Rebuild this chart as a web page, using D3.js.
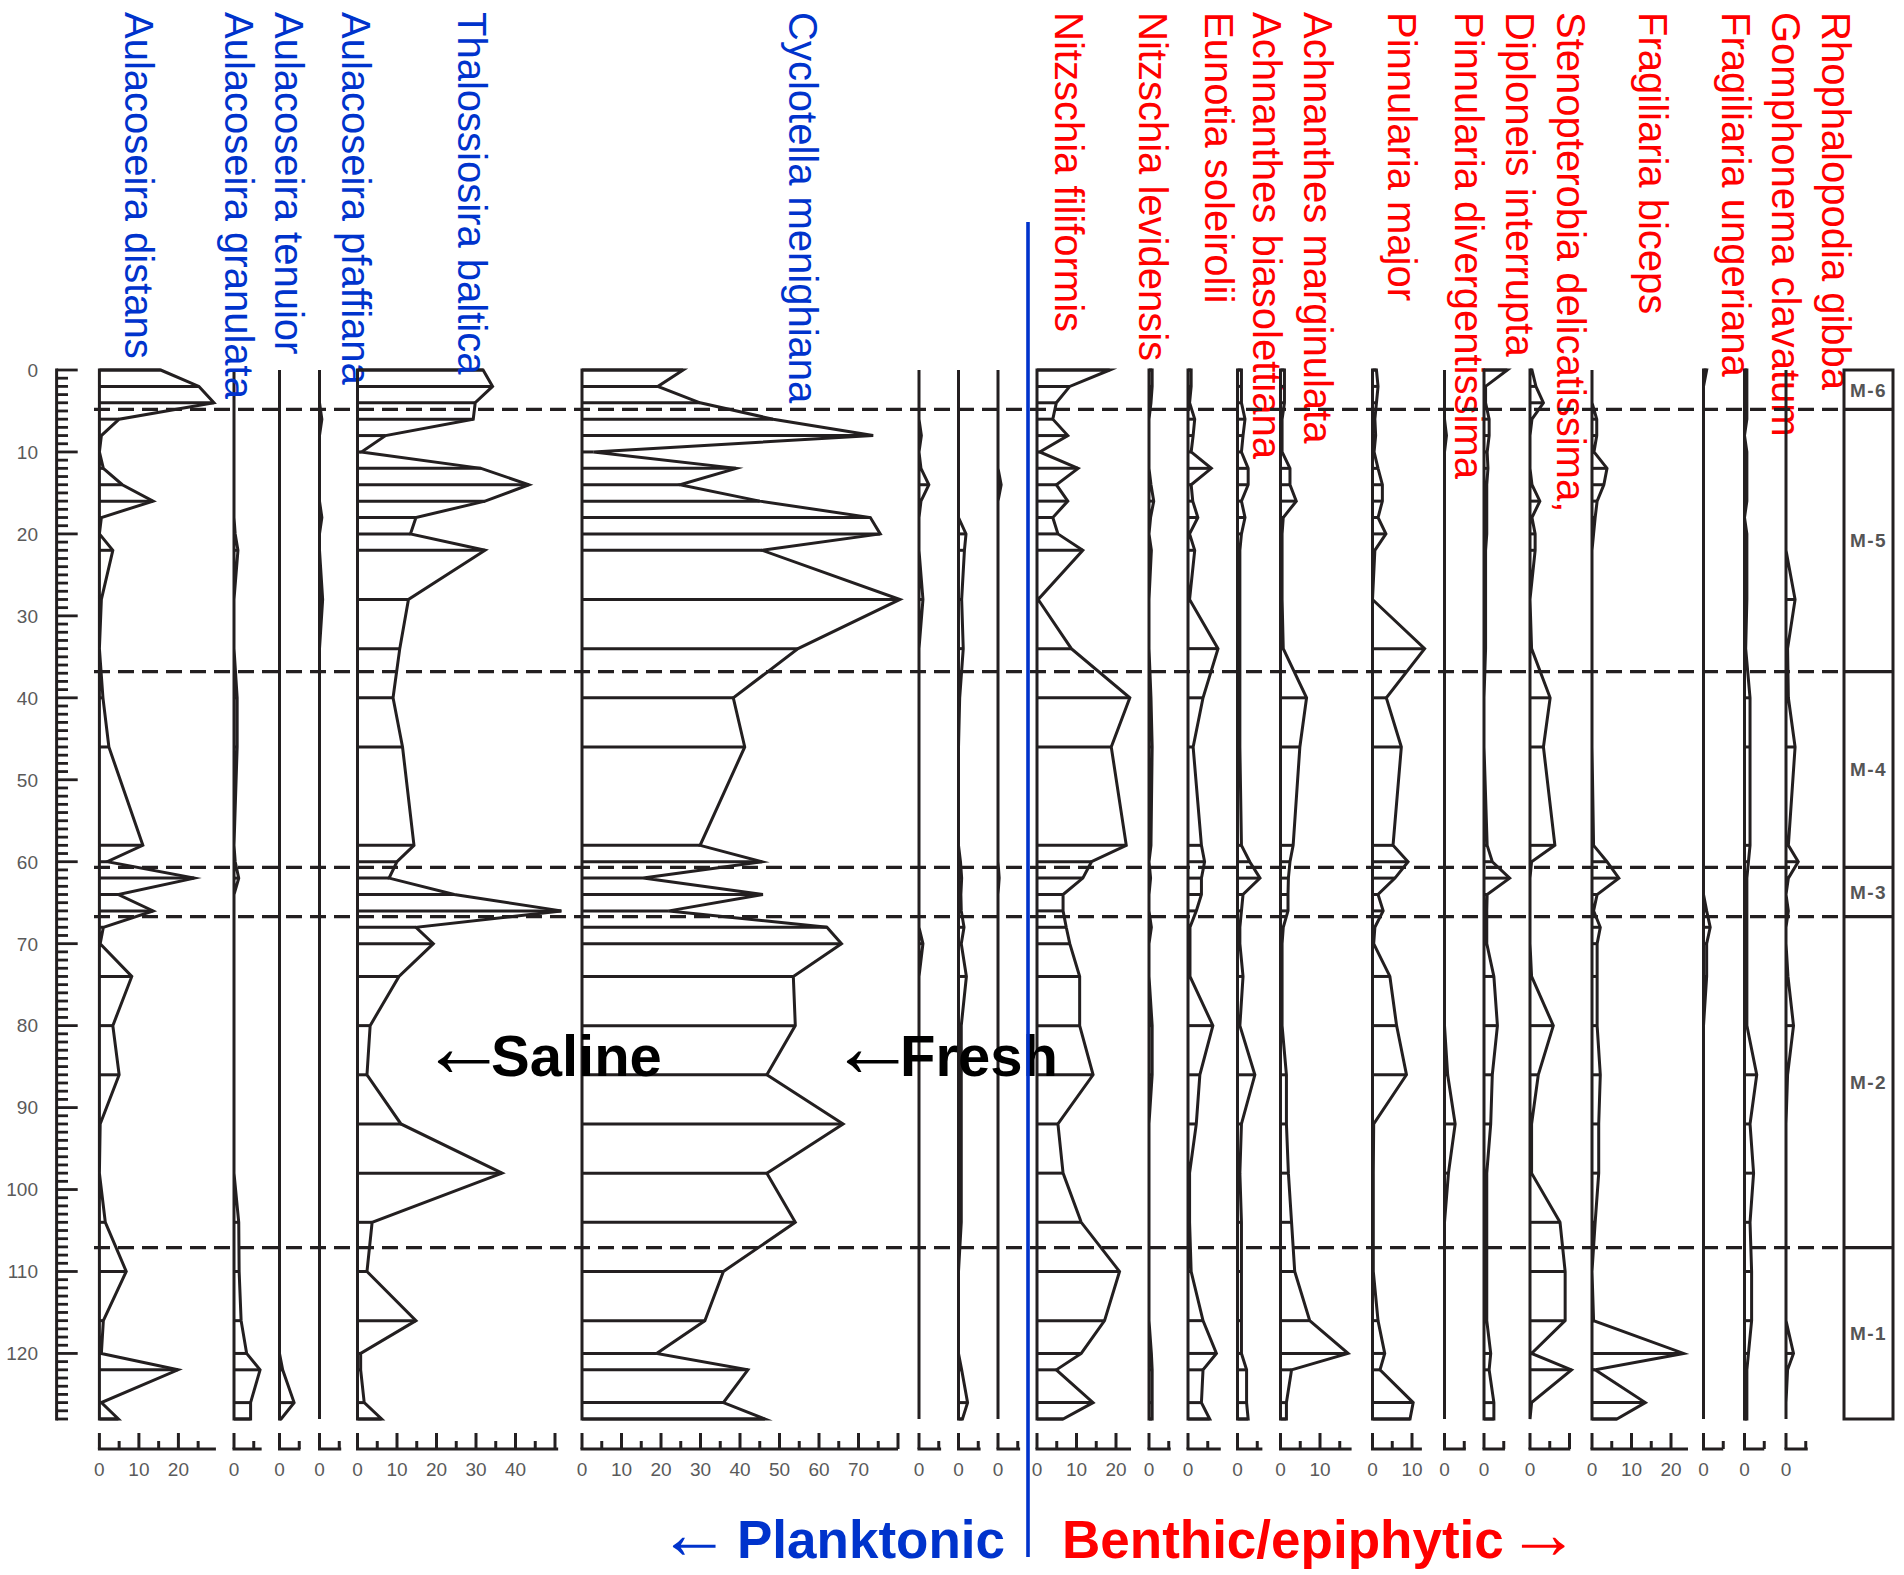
<!DOCTYPE html>
<html><head><meta charset="utf-8">
<script src="https://cdn.jsdelivr.net/npm/d3@7"></script>
<style>
body{margin:0;background:#fff}
svg{display:block}
text{font-family:"Liberation Sans",Arial,Helvetica,sans-serif}
</style>
</head><body>
<svg id="chart" width="1904" height="1575"></svg>
<script>
// ---------------- DATA ----------------
const depths = [0,2,4,6,8,10,12,14,16,18,20,22,28,34,40,46,58,60,62,64,66,68,70,74,80,86,92,98,104,110,116,120,122,126,128];

const taxonNames = [
  "Aulacoseira distans","Aulacoseira granulata","Aulacoseira tenuior","Aulacoseira pfaffiana",
  "Thalossiosira baltica","Cyclotella menighiana","","","",
  "Nitzschia filiformis","Nitzschia levidensis","Eunotia soleirolii","Achnanthes biasolettiana",
  "Achnanthes marginulata","Pinnularia major","Pinnularia divergentissima","Diploneis interrupta",
  "Stenopterobia delicatissima,","Fragiliaria biceps","Fragiliaria ungeriana","Gomphonema clavatum",
  "Rhophalopodia gibba"
];
const habitat = ["P","P","P","P","P","P","P","P","P","B","B","B","B","B","B","B","B","B","B","B","B","B"];

const aDistans   = [15.5,25.2,29,5,0.5,0,1,5.8,13.6,0.5,0,3.4,0.5,0,0.9,2.4,11,2,24,4.8,13.6,1,0.2,8.2,3.4,5,0.2,0,1.5,6.8,1,0.5,19.9,0.5,4.8];
const aGranulata = [0,0,0,0,0,0,0,0,0,0,0.3,1,0,0,0.8,0.8,0,0.3,1.2,0,0,0,0,0,0,0,0,0,1.2,1.3,1.8,3.2,6.6,4.2,4.2];
const aTenuior   = [0,0,0,0,0,0,0,0,0,0,0,0,0,0,0,0,0,0,0,0,0,0,0,0,0,0,0,0,0,0,0,0,0.8,3.7,0.4];
const aPfaffiana = [0,0,0,0.6,0,0,0,0,0,0.6,0,0,0.8,0,0,0,0,0,0,0,0,0,0,0,0,0,0,0,0,0,0,0,0,0,0];
const tBaltica   = [31.8,34.2,29.8,29.3,7.1,1,31.3,43.4,32.3,14.8,13.4,32.3,12.9,10.7,9,11.4,14.3,10,8,24.5,51.6,14.8,19.2,10.5,3.2,2.4,11,36.6,3.7,2.4,14.8,0.8,0.8,1.7,6.1];
const cMenighiana= [25.6,19.2,29.9,48.4,73.7,2.9,39,24.8,45,73,75.5,45.6,80.5,54.7,38.3,41.2,29.9,45.6,15.5,45.8,22,62,65.7,53.5,54,46.8,66.1,46.8,54,35.8,31.1,18.9,42,35.8,46.3];
const plankton7  = [0,0,0,0,0.6,0,0.5,2.5,0.5,0,0,0,1,0,0,0,0,0,0,0,0,0,1,0,0,0,0,0,0,0,0,0,0,0,0];
const plankton8  = [0,0,0,0,0,0,0,0,0,0,1.9,1.5,0.8,1.2,0.3,0,0,0.5,0.8,0.6,0.7,1.4,0.7,2,0.7,0.7,0.7,0.7,0.7,0,0,0,0.8,2.3,1];
const plankton9  = [0,0,0,0,0,0,0,0.8,0,0,0,0,0,0,0,0,0,0,0.3,0,0,0,0,0,0,0,0,0,0,0,0,0,0,0,0];
const nFiliformis= [18.4,8.3,4.9,4,7.8,0.7,10.4,4.9,7.8,4,5.3,11.6,0.3,8.7,23.5,18.8,22.6,13.8,11.6,6.6,6.6,7.4,8.3,10.8,10.8,14.2,5.3,6.6,11.2,20.9,17.1,11.2,4.9,14.2,6.6];
const nLevidensis= [0.8,0.8,0.5,0,0,0,0,0.5,1.2,0.4,0,0.6,0,0,0.5,0.8,0.5,0,0.4,0,0,0.6,0,0,0.8,0.8,0,0,0,0,0,0.6,0.8,0.8,0.8];
const eSoleirolii= [0.8,0.8,0.4,1.7,1.3,0.8,5.9,0.8,1.2,2.5,0.4,1.7,0.4,7.6,3.8,1.3,3.4,4.2,3.4,3.4,2.1,0.5,0.5,0.5,6.3,3,2.1,0.4,0.4,0.8,3.8,7.2,3.8,3.4,5.5];
const aBiasolettiana=[1,1,1,1.9,1.4,1,2.7,2.7,1,1.9,1,0.6,0.6,0.6,0.6,0.6,1,3.1,5.7,1.4,1,0.6,0.6,1.4,0.6,4.4,1,0.6,1,1,1,1,2.3,2.3,2.7];
const aMarginulata=[1,1,1,0.4,0.4,0.4,2.4,2.4,4,0.7,0.4,0.4,0.4,0.7,6.6,4.9,3.2,2.4,2,1.9,1.9,0.7,0.4,0.4,0.4,1.5,1.5,2,2.8,3.6,7.4,17.1,2.8,1.5,1.5];
const pMajor     = [1,1.4,1,0.6,0.8,0.4,1.4,2.5,2.5,1.4,3.4,0.6,0,13.2,3.5,7.3,5.2,9,5.7,1.4,2.7,0.6,0.3,4.4,6.1,8.6,0.3,0.2,0.2,0.2,1.4,3.1,1.9,10.3,9.5];
const pDivergent = [0,0,0,0,0.5,0,0,0,0,0,0,0,0,0,0,0,0,0,0,0,0,0,0,0,0,0.8,2.7,1,0,0,0,0,0,0,0];
const dInterrupta= [5.9,0.4,0.4,1.3,1.3,0.8,1,0.7,0.7,0.7,0.7,0.4,0.4,0.4,0,0,0.8,2.1,6.5,0.8,0.7,0.7,0.7,2.5,3.4,2.1,1.7,0.7,0.7,0.7,0.7,1.7,1.3,2.5,2.5];
const sDelicatissima=[0.5,1.5,3.4,0.5,0,0,0,0.5,2.5,0.5,1.3,1.3,0,0.4,5.1,3.4,6.3,0.4,0,0,0,0,0,0.4,5.9,2.1,0.4,0.4,7.6,8.9,8.9,0.4,10.5,0.4,0];
const fBiceps    = [0,0,0,1.2,1.2,0.5,3.8,3,1.3,0.8,0.4,0,0,0,0,0,0.4,3.8,6.8,1.3,0.4,2.1,1.3,1.3,1.3,2.1,1.7,1.7,0.8,0,0.4,23.2,0.8,13.5,6.3];
const fUngeriana = [0.8,0,0,0,0,0,0,0,0,0,0,0,0,0,0,0,0,0,0,0,0.8,1.7,0.8,0.8,0,0,0,0,0,0,0,0,0,0,0];
const gClavatum  = [0.6,0.6,0.6,0.6,0,0.6,0.6,0.6,0.6,0,0.6,0.6,0.6,0.3,1.4,1.4,1.4,1,0.6,0.6,0.6,0.6,0.6,0.6,0.6,3.1,1.4,2.3,1.4,1.8,1.8,1,0.6,0.6,0.6];
const rGibba     = [0,0,0,0,0,0,0,0,0,0,0,0,2.3,0.4,0.6,2.3,0.6,3.1,0.6,0,0.6,0,0,0.5,1.9,0.4,0,0,0,0,0,1.9,0.4,0,0];

const seriesValues = [aDistans,aGranulata,aTenuior,aPfaffiana,tBaltica,cMenighiana,plankton7,plankton8,plankton9,
  nFiliformis,nLevidensis,eSoleirolii,aBiasolettiana,aMarginulata,pMajor,pDivergent,dInterrupta,
  sDelicatissima,fBiceps,fUngeriana,gClavatum,rGibba];

const axisMax = [29.5,7,5.3,5.5,50.8,80,5.6,5.6,5.6,23.8,5.5,8.3,6.3,18,12.5,5.4,5.3,10.2,24.3,5,5,5.5];
const axisTickLabels = [
  [0,10,20],[0],[0],[0],[0,10,20,30,40],[0,10,20,30,40,50,60,70],[0],[0],[0],
  [0,10,20],[0],[0],[0],[0,10],[0,10],[0],[0],[0],[0,10,20],[0],[0],[0]
];
const depthTickLabels = [0,10,20,30,40,50,60,70,80,90,100,110,120];
const zoneBounds = [4.8,36.8,60.7,66.7,107.1];
const zoneNames = ["M-6","M-5","M-4","M-3","M-2","M-1"];

// ---------------- LAYOUT ----------------
const W = 1904, H = 1575;
const ink = "#231f20", blue = "#0033cc", red = "#ff0000", grey = "#5a5a5a";
const unitPx = 3.95;
const panelZeroX = [99.4,234,279.5,319.5,357.5,582,919,958.5,998,1037,1149,1188,1237.5,1280.5,1372.5,1444.5,1484,1530,1592,1703.5,1744.5,1786];
const labelBaseX = [125,225,275,341.5,458,789,null,null,null,1055,1139,1205,1253,1304,1388,1455,1506,1557,1639,1722,1772,1822];
const lw = 3;

const svg = d3.select("#chart");
svg.append("rect").attr("width",W).attr("height",H).attr("fill","#fff");

const y = d3.scaleLinear().domain([0,128]).range([370,1419]);

// depth ruler
const ruler = svg.append("g");
ruler.append("line").attr("x1",56.6).attr("x2",56.6).attr("y1",y(0)-1.5).attr("y2",y(128)+1.5)
  .attr("stroke",ink).attr("stroke-width",3);
ruler.selectAll("line.tk").data(d3.range(0,129)).join("line").attr("class","tk")
  .attr("x1",56.6).attr("x2",d=>d%10===0?77.7:68).attr("y1",d=>y(d)).attr("y2",d=>y(d))
  .attr("stroke",ink).attr("stroke-width",2.8);
ruler.selectAll("text").data(depthTickLabels).join("text")
  .attr("x",38).attr("y",d=>y(d)).attr("dy","0.36em").attr("text-anchor","end")
  .attr("font-size",19).attr("fill",grey).text(d=>d);

// panels
seriesValues.forEach((vals,i)=>{
  const x0 = panelZeroX[i];
  const x = d3.scaleLinear().domain([0,axisMax[i]]).range([x0, x0+axisMax[i]*unitPx]);
  const pts = depths.map((d,j)=>({d:d, v:vals[j]}));
  const g = svg.append("g");
  g.selectAll("line.bar").data(pts).join("line").attr("class","bar")
    .attr("x1",x(0)).attr("x2",p=>x(p.v)).attr("y1",p=>y(p.d)).attr("y2",p=>y(p.d))
    .attr("stroke",ink).attr("stroke-width",lw);
  const area = d3.area().x0(x(0)).x1(p=>x(p.v)).y(p=>y(p.d));
  g.append("path").datum(pts).attr("d",area).attr("fill","none")
    .attr("stroke",ink).attr("stroke-width",lw).attr("stroke-linejoin","miter").attr("stroke-miterlimit",6);
  // bottom axis
  const ay = 1449;
  g.append("line").attr("x1",x(0)-1.5).attr("x2",x(axisMax[i])).attr("y1",ay).attr("y2",ay)
    .attr("stroke",ink).attr("stroke-width",3);
  const ticks = d3.range(0, axisMax[i]+0.3, 5);
  g.selectAll("line.xt").data(ticks).join("line").attr("class","xt")
    .attr("x1",t=>x(t)).attr("x2",t=>x(t)).attr("y1",ay).attr("y2",t=>t%10===0?1433:1441)
    .attr("stroke",ink).attr("stroke-width",3);
  g.selectAll("text.xl").data(axisTickLabels[i]).join("text").attr("class","xl")
    .attr("x",t=>x(t)).attr("y",1476).attr("text-anchor","middle")
    .attr("font-size",19).attr("fill",grey).text(t=>t);
  // taxon label
  if (taxonNames[i]) {
    svg.append("text").attr("transform",`translate(${labelBaseX[i]},12) rotate(90)`)
      .attr("font-size",40).attr("fill",habitat[i]==="P"?blue:red).text(taxonNames[i]);
  }
});

// zone column
const zoneLeft = 1844, zoneRight = 1893;
svg.append("rect").attr("x",zoneLeft).attr("y",y(0)).attr("width",zoneRight-zoneLeft).attr("height",y(128)-y(0))
  .attr("fill","none").attr("stroke",ink).attr("stroke-width",3);
zoneBounds.forEach(b=>{
  svg.append("line").attr("x1",94).attr("x2",zoneLeft).attr("y1",y(b)).attr("y2",y(b))
    .attr("stroke",ink).attr("stroke-width",3.2).attr("stroke-dasharray","16,8");
  svg.append("line").attr("x1",zoneLeft).attr("x2",zoneRight).attr("y1",y(b)).attr("y2",y(b))
    .attr("stroke",ink).attr("stroke-width",3.2);
});
const zb = [0].concat(zoneBounds).concat([128]);
zoneNames.forEach((n,k)=>{
  svg.append("text").attr("x",(zoneLeft+zoneRight)/2).attr("y",y((zb[k]+zb[k+1])/2)).attr("dy","0.36em")
    .attr("text-anchor","middle").attr("font-size",19).attr("font-weight","bold").attr("letter-spacing",1.5)
    .attr("fill","#555").text(n);
});

// annotations: one text element each, arrow glyph as a larger thin tspan
function arrowLabel(x, yb, color, parts) {
  const t = svg.append("text").attr("x",x).attr("y",yb).attr("fill",color);
  parts.forEach(p=>{
    const s = t.append("tspan").attr("font-size",p.size)
      .attr("font-weight",p.bold?"bold":"normal").text(p.t);
    if (p.x != null) s.attr("x",p.x);
    if (p.ls != null) s.attr("letter-spacing",p.ls);
  });
}
arrowLabel(420, 1076, "#000", [{size:87,t:"\u2190",ls:-16},{size:58,bold:true,t:"Saline"}]);
arrowLabel(829, 1076, "#000", [{size:87,t:"\u2190",ls:-16},{size:58,bold:true,t:"Fresh"}]);
arrowLabel(658, 1558, blue, [{size:72,t:"\u2190"},{x:737,size:53,bold:true,t:"Planktonic"}]);
arrowLabel(1062, 1558, red, [{size:53,bold:true,t:"Benthic/epiphytic"},{x:1507,size:72,t:"\u2192"}]);

// divider
svg.append("line").attr("x1",1028).attr("x2",1028).attr("y1",222).attr("y2",1557)
  .attr("stroke",blue).attr("stroke-width",3.6);
</script>
</body></html>
